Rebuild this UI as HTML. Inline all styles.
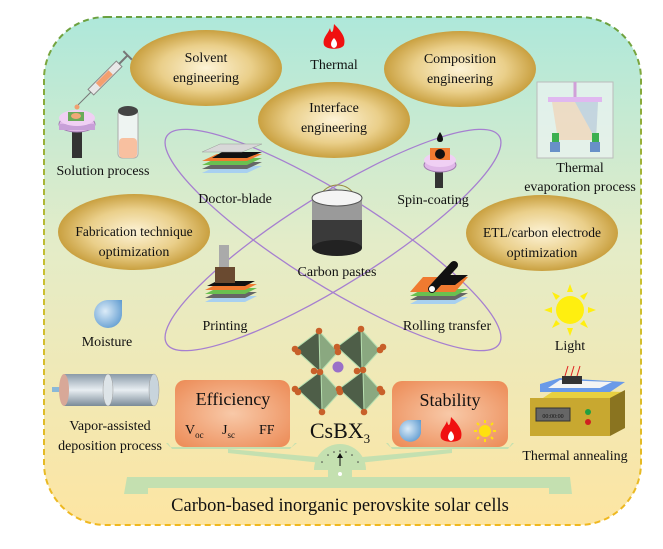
<!DOCTYPE html>
<html><head><meta charset="utf-8"><style>
html,body{margin:0;padding:0;background:#fff;}
svg{display:block;}
text{font-family:"Liberation Serif",serif;fill:#111;}
</style></head><body>
<svg width="663" height="549" viewBox="0 0 663 549" xmlns="http://www.w3.org/2000/svg">
<defs>
<linearGradient id="bg" x1="0" y1="0" x2="0" y2="1">
<stop offset="0" stop-color="#aee8da"/><stop offset="0.45" stop-color="#e4ecc8"/><stop offset="1" stop-color="#fde5a2"/></linearGradient>
<linearGradient id="bd" x1="0" y1="0" x2="0" y2="1">
<stop offset="0" stop-color="#6aa040"/><stop offset="0.5" stop-color="#c9c030"/><stop offset="1" stop-color="#f0b820"/></linearGradient>
<radialGradient id="gold" cx="0.5" cy="0.5" r="0.5">
<stop offset="0" stop-color="#fdf3d6"/><stop offset="0.6" stop-color="#eacf8a"/><stop offset="1" stop-color="#c9a040"/></radialGradient>
<radialGradient id="org" cx="0.5" cy="0.5" r="0.7">
<stop offset="0" stop-color="#f8c9a8"/><stop offset="1" stop-color="#ec8a55"/></radialGradient>
<radialGradient id="drop" cx="0.4" cy="0.4" r="0.7">
<stop offset="0" stop-color="#dcecf8"/><stop offset="1" stop-color="#5f9bd0"/></radialGradient>
<linearGradient id="tube" x1="0" y1="0" x2="0" y2="1">
<stop offset="0" stop-color="#8a9aa8"/><stop offset="0.5" stop-color="#e8eef2"/><stop offset="1" stop-color="#7a8a98"/></linearGradient>
</defs>
<rect x="44" y="17" width="597" height="508" rx="62" fill="url(#bg)" stroke="url(#bd)" stroke-width="2" stroke-dasharray="6,4"/>

<ellipse cx="333" cy="240" rx="196" ry="45" fill="none" stroke="#a67fd0" stroke-width="1.3" transform="rotate(32 333 240)"/>
<ellipse cx="333" cy="240" rx="196" ry="45" fill="none" stroke="#a67fd0" stroke-width="1.3" transform="rotate(-32 333 240)"/>

<ellipse cx="206" cy="68" rx="76" ry="38" fill="url(#gold)"/>
<ellipse cx="460" cy="69" rx="76" ry="38" fill="url(#gold)"/>
<ellipse cx="334" cy="120" rx="76" ry="38" fill="url(#gold)"/>
<ellipse cx="134" cy="232" rx="76" ry="38" fill="url(#gold)"/>
<ellipse cx="542" cy="233" rx="76" ry="38" fill="url(#gold)"/>
<g font-size="14" text-anchor="middle">
<text x="206" y="62">Solvent</text><text x="206" y="82">engineering</text>
<text x="460" y="63">Composition</text><text x="460" y="83">engineering</text>
<text x="334" y="112">Interface</text><text x="334" y="132">engineering</text>
<text x="134" y="236" font-size="13.5">Fabrication technique</text><text x="134" y="256">optimization</text>
<text x="542" y="237" font-size="13.5">ETL/carbon electrode</text><text x="542" y="257">optimization</text>
<text x="334" y="69">Thermal</text>
<text x="103" y="175">Solution process</text>
<text x="580" y="172">Thermal</text><text x="580" y="191">evaporation process</text>
<text x="235" y="203">Doctor-blade</text>
<text x="433" y="204">Spin-coating</text>
<text x="337" y="276">Carbon pastes</text>
<text x="225" y="330">Printing</text>
<text x="447" y="330">Rolling transfer</text>
<text x="107" y="346">Moisture</text>
<text x="570" y="350">Light</text>
<text x="110" y="430">Vapor-assisted</text><text x="110" y="450">deposition process</text>
<text x="575" y="460">Thermal annealing</text>
</g>

<g transform="translate(334,38)">
<path d="M0,-14 C8,-6 12,0 10,7 C8,12 -8,12 -10,7 C-12,0 -6,-4 -4,-10 C-3,-5 -1,-3 0,-14Z" fill="#f01010"/>
<path d="M0,0 C4,4 4,9 0,10 C-4,9 -4,4 0,0Z" fill="#fff"/>
</g>

<g transform="translate(105,78) rotate(-45)">
<rect x="-20" y="-4" width="40" height="8" fill="#e8e8e8" stroke="#888"/>
<rect x="-10" y="-3" width="18" height="6" fill="#f4a070"/>
<line x1="20" y1="0" x2="32" y2="0" stroke="#777" stroke-width="2"/>
<line x1="32" y1="-6" x2="32" y2="6" stroke="#777" stroke-width="2"/>
<line x1="-20" y1="0" x2="-40" y2="0" stroke="#777" stroke-width="1"/>
</g>
<g>
<circle cx="77" cy="107" r="2.5" fill="#f0a070"/>
<rect x="72" y="130" width="10" height="28" fill="#333"/>
<ellipse cx="77" cy="124" rx="18" ry="8" fill="#e0b8e8" stroke="#a07ab0"/>
<rect x="59" y="124" width="36" height="6" fill="#c8a0d8"/>
<ellipse cx="77" cy="118" rx="18" ry="8" fill="#f0d0f4"/>
<rect x="68" y="112" width="16" height="9" fill="#6aab5a"/>
<ellipse cx="76" cy="116" rx="5" ry="3" fill="#f0a878"/>
</g>
<rect x="118" y="110" width="20" height="48" rx="4" fill="#eef4f2" stroke="#aaa"/>
<rect x="119" y="138" width="18" height="20" rx="4" fill="#f8c0a0"/>
<ellipse cx="128" cy="111" rx="10" ry="5" fill="#444"/>

<g>
<rect x="537" y="82" width="76" height="76" fill="#eef4f4" fill-opacity="0.7" stroke="#bbb"/>
<line x1="575" y1="82" x2="575" y2="97" stroke="#d0a0d8" stroke-width="3"/>
<rect x="548" y="97" width="54" height="5" fill="#e0b8f0"/>
<polygon points="552,102 598,102 596,140 558,140" fill="#f8c8a0" fill-opacity="0.5"/>
<polygon points="575,102 598,102 596,140" fill="#a8d0f0" fill-opacity="0.6"/>
<rect x="552" y="133" width="7" height="9" fill="#3cb050"/><rect x="592" y="133" width="7" height="9" fill="#3cb050"/>
<rect x="550" y="142" width="10" height="10" fill="#6890c8"/><rect x="590" y="142" width="10" height="10" fill="#6890c8"/>
</g>

<g transform="translate(202,148)">
<polygon points="0,25 45,25 60,18 15,18" fill="#a8d0f0"/>
<polygon points="0,21 45,21 60,14 15,14" fill="#666"/>
<polygon points="0,17 45,17 60,10 15,10" fill="#6ac050"/>
<polygon points="0,13 45,13 60,6 15,6" fill="#f07a30"/>
<polygon points="10,10 45,10 60,4 20,4" fill="#111"/>
<polygon points="0,4 40,4 60,-4 18,-4" fill="#d8d8d8" stroke="#999" stroke-width="0.5"/>
</g>
<g>
<path d="M440,132 C444,138 444,142 440,142 C436,142 436,138 440,132Z" fill="#111"/>
<rect x="435" y="168" width="8" height="20" fill="#333"/>
<ellipse cx="440" cy="165" rx="16" ry="7" fill="#e0b8e8" stroke="#a07ab0"/>
<ellipse cx="440" cy="160" rx="16" ry="7" fill="#f0d0f4"/>
<rect x="430" y="148" width="20" height="12" fill="#f07a30"/>
<circle cx="440" cy="154" r="5" fill="#111"/>
</g>
<g>
<path d="M315,215 C315,175 360,175 360,215" fill="none" stroke="#9a8a40" stroke-width="1"/>
<rect x="312" y="198" width="50" height="50" fill="#3a3a3a"/>
<rect x="312" y="198" width="50" height="22" fill="#9a9a9a"/>
<ellipse cx="337" cy="248" rx="25" ry="8" fill="#222"/>
<ellipse cx="337" cy="198" rx="25" ry="8" fill="#f4f4f4" stroke="#555"/>
</g>
<g transform="translate(205,275)">
<rect x="14" y="-30" width="10" height="22" fill="#aaa"/>
<polygon points="0,27 40,27 52,21 12,21" fill="#a8d0f0"/>
<polygon points="0,23 40,23 52,17 12,17" fill="#666"/>
<polygon points="0,19 40,19 52,13 12,13" fill="#6ac050"/>
<polygon points="0,15 40,15 52,9 12,9" fill="#f07a30"/>
<polygon points="2,11 40,11 50,6 12,6" fill="#111"/>
<rect x="10" y="-8" width="20" height="16" fill="#6a4a30"/>
</g>
<g transform="translate(410,275)">
<polygon points="0,29 45,29 58,22 13,22" fill="#a8d0f0"/>
<polygon points="0,25 45,25 58,18 13,18" fill="#666"/>
<polygon points="0,21 45,21 58,14 13,14" fill="#6ac050"/>
<polygon points="0,17 45,17 58,2 13,2" fill="#f07a30"/>
<polygon points="22,10 45,10 58,0 34,0" fill="#111"/>
<line x1="22" y1="14" x2="44" y2="-10" stroke="#111" stroke-width="8" stroke-linecap="round"/>
<circle cx="22" cy="14" r="3" fill="#fff"/>
</g>

<path d="M107,300 L122,300 L122,313 A14,14 0 1 1 107,300Z" fill="url(#drop)"/>
<g transform="translate(570,310)">
<circle r="14" fill="#ffef10"/>
<g fill="#ffef10">
<polygon points="-3,-18 3,-18 0,-26"/><polygon points="-3,18 3,18 0,26"/>
<polygon points="-18,-3 -18,3 -26,0"/><polygon points="18,-3 18,3 26,0"/>
<polygon points="-14,-10 -10,-14 -18,-18"/><polygon points="14,-10 10,-14 18,-18"/>
<polygon points="-14,10 -10,14 -18,18"/><polygon points="14,10 10,14 18,18"/>
</g></g>

<!-- crystal -->
<g>
<g stroke="#b8e0b0" stroke-width="1">
<g transform="translate(316,352)"><polygon points="3,-21 22,0 4,20 -21,-3" fill="#8aa880"/><polygon points="3,-21 -21,-3 4,20" fill="#4e5e48"/></g>
<g transform="translate(358,350)"><polygon points="3,-21 22,0 4,20 -21,-3" fill="#8aa880"/><polygon points="3,-21 -21,-3 4,20" fill="#4e5e48"/></g>
<g transform="translate(318,392)"><polygon points="3,-21 22,0 4,20 -21,-3" fill="#8aa880"/><polygon points="3,-21 -21,-3 4,20" fill="#4e5e48"/></g>
<g transform="translate(360,392)"><polygon points="3,-21 22,0 4,20 -21,-3" fill="#8aa880"/><polygon points="3,-21 -21,-3 4,20" fill="#4e5e48"/></g>
</g>
<g fill="#c8602a">
<circle cx="319" cy="331" r="3.3"/><circle cx="295" cy="349" r="3.3"/><circle cx="298" cy="352" r="3.3"/><circle cx="338" cy="352" r="3.3"/><circle cx="320" cy="372" r="3.3"/>
<circle cx="361" cy="329" r="3.3"/><circle cx="337" cy="347" r="3.3"/><circle cx="380" cy="350" r="3.3"/><circle cx="363" cy="370" r="3.3"/><circle cx="383" cy="347" r="3.3"/>
<circle cx="314" cy="371" r="3.3"/><circle cx="295" cy="389" r="3.3"/><circle cx="340" cy="392" r="3.3"/><circle cx="322" cy="412" r="3.3"/><circle cx="298" cy="392" r="3.3"/>
<circle cx="357" cy="371" r="3.3"/><circle cx="339" cy="389" r="3.3"/><circle cx="382" cy="392" r="3.3"/><circle cx="364" cy="412" r="3.3"/><circle cx="380" cy="389" r="3.3"/>
</g>
<circle cx="338" cy="367" r="5.5" fill="#9a70c8"/>
</g>

<!-- scale -->
<g fill="#c4e0b0" stroke="none">
<polygon points="170,447 292,447 297,443 295,443 290,449 172,449 168,443 166,443"/>
<polygon points="390,447 510,447 514,443 512,443 508,449 392,449 388,443 386,443"/>
<polygon points="228,449 340,459 452,449 452,453 340,465 228,453"/>
<path d="M314,470 A26,26 0 0 1 366,470 Z"/>
<rect x="328" y="465" width="24" height="14"/>
<polygon points="127,477 570,477 572,494 549,494 549,488 148,488 148,494 124,494"/>
</g>
<g fill="#444"><circle cx="322" cy="462" r="0.8"/><circle cx="328" cy="455" r="0.8"/><circle cx="334" cy="452" r="0.8"/><circle cx="340" cy="451" r="0.8"/><circle cx="346" cy="452" r="0.8"/><circle cx="352" cy="455" r="0.8"/><circle cx="358" cy="462" r="0.8"/></g>
<line x1="340" y1="466" x2="340" y2="456" stroke="#111" stroke-width="1"/>
<polygon points="337,458 343,458 340,453" fill="#111"/>
<circle cx="340" cy="474" r="2" fill="#fff"/>

<rect x="175" y="380" width="115" height="67" rx="10" fill="url(#org)"/>
<rect x="392" y="381" width="116" height="66" rx="10" fill="url(#org)"/>
<g text-anchor="middle">
<text x="233" y="405" font-size="18">Efficiency</text>
<text x="450" y="406" font-size="18">Stability</text>
<text x="340" y="438" font-size="22">CsBX<tspan font-size="13" dy="5">3</tspan></text>
</g>
<g font-size="14">
<text x="185" y="434">V<tspan font-size="9" dy="4">oc</tspan></text>
<text x="222" y="434">J<tspan font-size="9" dy="4">sc</tspan></text>
<text x="259" y="434">FF</text>
</g>
<path d="M408,420 L421,420 L421,433 A11,11 0 1 1 408,420Z" fill="url(#drop)"/>
<g transform="translate(451,431)">
<path d="M0,-14 C8,-6 12,0 10,7 C8,12 -8,12 -10,7 C-12,0 -6,-4 -4,-10 C-3,-5 -1,-3 0,-14Z" fill="#f01010"/>
<path d="M0,0 C4,4 4,9 0,10 C-4,9 -4,4 0,0Z" fill="#fff"/>
</g>
<g transform="translate(485,431)">
<circle r="6" fill="#ffe010"/>
<g stroke="#ffe010" stroke-width="2"><line x1="0" y1="-8" x2="0" y2="-11"/><line x1="0" y1="8" x2="0" y2="11"/><line x1="-8" y1="0" x2="-11" y2="0"/><line x1="8" y1="0" x2="11" y2="0"/><line x1="-6" y1="-6" x2="-8" y2="-8"/><line x1="6" y1="6" x2="8" y2="8"/><line x1="-6" y1="6" x2="-8" y2="8"/><line x1="6" y1="-6" x2="8" y2="-8"/></g>
</g>

<g>
<rect x="52" y="387" width="12" height="5" fill="#8ab8d8"/>
<rect x="64" y="374" width="90" height="32" fill="url(#tube)"/>
<ellipse cx="64" cy="390" rx="5" ry="16" fill="#d8a898"/>
<ellipse cx="108" cy="390" rx="5" ry="16" fill="#dde4e8" stroke="#999" stroke-width="0.5"/>
<ellipse cx="154" cy="390" rx="5" ry="16" fill="#c8d4dc" stroke="#999" stroke-width="0.5"/>
</g>

<g>
<polygon points="540,400 610,400 625,392 555,390" fill="#e8d040"/>
<polygon points="540,392 610,392 625,382 560,378 540,384" fill="#6a9ae8"/>
<polygon points="548,388 600,388 612,382 560,380" fill="#f4f4f4"/>
<rect x="562" y="376" width="20" height="8" fill="#333"/>
<g stroke="#e02020" stroke-width="1"><line x1="565" y1="376" x2="568" y2="366"/><line x1="571" y1="376" x2="574" y2="366"/><line x1="577" y1="376" x2="580" y2="366"/></g>
<rect x="530" y="398" width="80" height="38" fill="#c8a830"/>
<polygon points="610,398 625,390 625,428 610,436" fill="#8a7420"/>
<rect x="536" y="408" width="34" height="13" fill="#666" stroke="#333"/>
<text x="553" y="418" font-size="6" text-anchor="middle" fill="#ddd">00:00:00</text>
<circle cx="588" cy="412" r="3" fill="#20a040"/><circle cx="588" cy="422" r="3" fill="#d02020"/>
</g>

<text x="340" y="511" font-size="18.5" text-anchor="middle">Carbon-based inorganic perovskite solar cells</text>
</svg>
</body></html>
